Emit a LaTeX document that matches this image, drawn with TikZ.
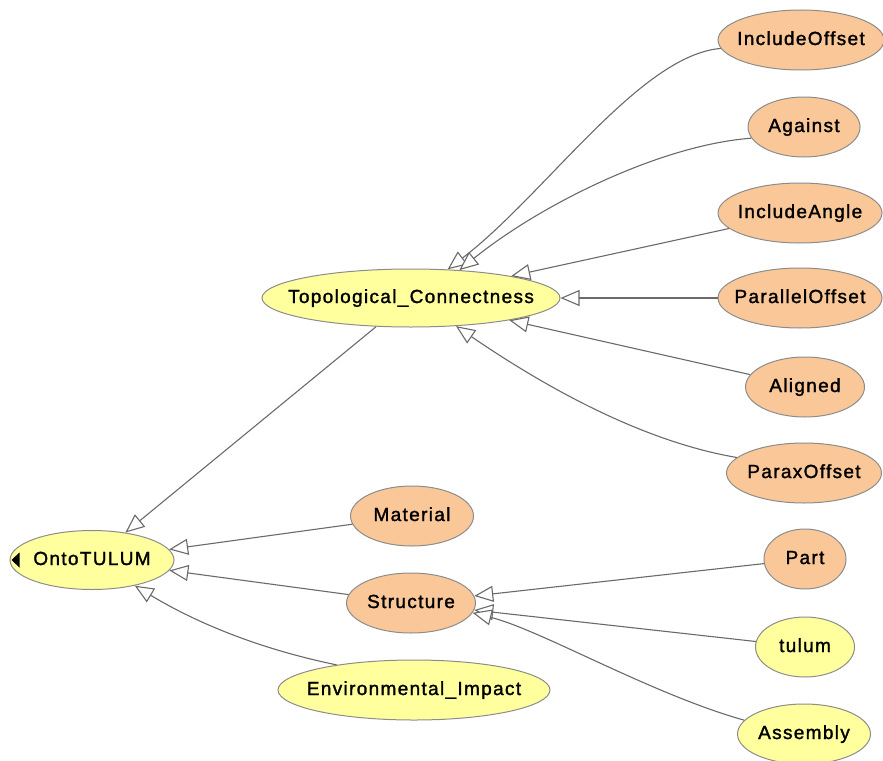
\documentclass[tikz,border=0pt]{standalone}
\usepackage{fontspec}
\setmainfont{Liberation Sans}[LetterSpace=7, FakeBold=1.5]
\usepackage{xcolor}
\usetikzlibrary{shapes.geometric,arrows.meta}
\definecolor{peachcream}{HTML}{FAC898}
\definecolor{lemonpale}{HTML}{FFFF9E}
\definecolor{edgegray}{HTML}{6A6A6A}
\definecolor{rimgray}{HTML}{8C8C8C}
\newcommand{\cname}[1]{\makebox[0pt]{#1}}
\tikzset{
    cls/.style={ellipse, draw=rimgray, line width=1pt, inner sep=0pt, text height=14pt, text depth=4pt, font=\fontsize{19}{23}\selectfont},
    leaf/.style={cls, fill=peachcream},
    root/.style={cls, fill=lemonpale},
    isa/.style={draw=edgegray, line width=1.1pt, -{Triangle[length=19pt, width=16pt, fill=white]}}
}

\begin{document}
\begin{tikzpicture}[x=1pt, y=1pt]
                \useasboundingbox (0,0) rectangle (883,-760);
                \node[leaf, minimum width=166pt, minimum height=60pt] (incoff) at (801,-40) {\cname{IncludeOffset}};
                \node[leaf, minimum width=112pt, minimum height=60pt] (against) at (804,-127) {\cname{Against}};
                \node[leaf, minimum width=164pt, minimum height=60pt] (incang) at (800,-213) {\cname{IncludeAngle}};
                \node[leaf, minimum width=164pt, minimum height=60pt] (paroff) at (800,-298) {\cname{ParallelOffset}};
                \node[leaf, minimum width=119pt, minimum height=60pt] (aligned) at (805,-387) {\cname{Aligned}};
                \node[leaf, minimum width=155pt, minimum height=60pt] (parax) at (804,-473) {\cname{ParaxOffset}};
                \node[root, minimum width=298pt, minimum height=58pt] (topo) at (411,-298) {\cname{Topological\_Connectness}};
                \node[leaf, minimum width=123pt, minimum height=60pt] (material) at (412,-516) {\cname{Material}};
                \node[leaf, minimum width=129pt, minimum height=60pt] (structure) at (411,-603) {\cname{Structure}};
                \node[root, minimum width=164pt, minimum height=59pt] (onto) at (92,-560) {\cname{OntoTULUM}};
                \node[root, minimum width=272pt, minimum height=60pt] (env) at (414,-690) {\cname{Environmental\_Impact}};
                \node[leaf, minimum width=82pt, minimum height=60pt] (part) at (805,-559) {\cname{Part}};
                \node[root, minimum width=99pt, minimum height=60pt] (tulum) at (805,-647) {\cname{tulum}};
                \node[root, minimum width=133pt, minimum height=60pt] (assembly) at (804,-734) {\cname{Assembly}};
                \fill ([xshift=2pt]onto.west) -- ++(8,7.5) -- ++(0,-15) -- cycle;

                \draw[isa] (incoff.186) .. controls (640,-55) and (545,-195) .. (topo.38);
                \draw[isa] (against.192) .. controls (660,-145) and (540,-205) .. (topo.30);
                \draw[isa] (incang) -- (topo);
                \draw[isa] (paroff) -- (topo);
                \draw[isa] (aligned) -- (topo);
                \draw[isa] (parax.167) .. controls (634,-440) and (532,-378) .. (topo.-32);
                \draw[isa] (topo) -- (onto);
                \draw[isa] (material) -- (onto);
                \draw[isa] (structure) -- (onto);
                \draw[isa] (env.162) .. controls (264,-650) and (200,-625) .. (onto.-31);
                \draw[isa] (part) -- (structure);
                \draw[isa] (tulum) -- (structure);
                \draw[isa] (assembly.167) .. controls (651,-694) and (541,-630) .. (structure.-9);
\end{tikzpicture}
\end{document}
